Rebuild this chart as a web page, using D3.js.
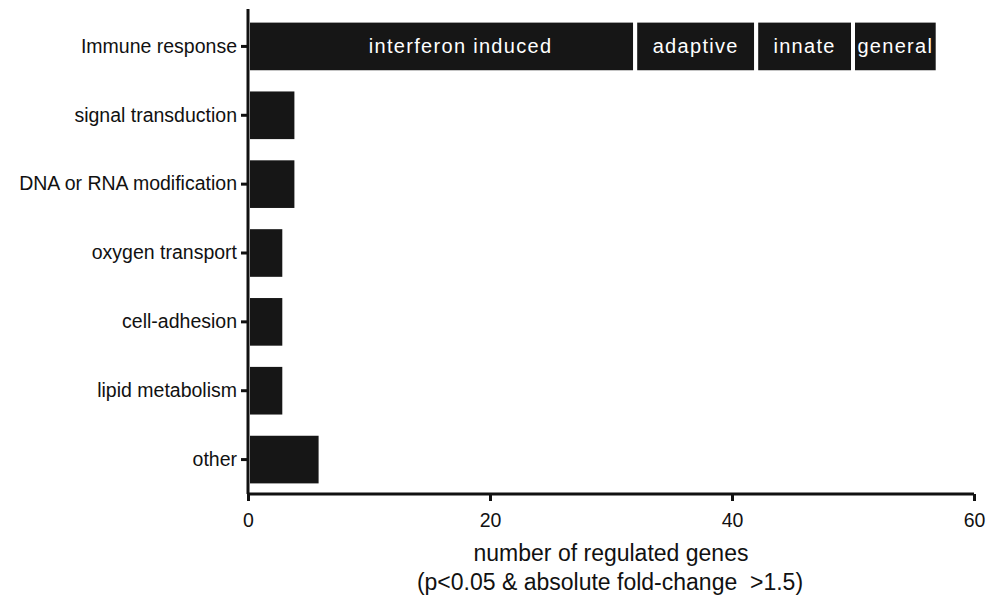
<!DOCTYPE html>
<html>
<head>
<meta charset="utf-8">
<script src="https://cdn.jsdelivr.net/npm/d3@7"></script>
<style>
  body { margin: 0; background: #fff; }
  text { font-family: "Liberation Sans", Arial, sans-serif; fill: #111; }
</style>
</head>
<body>
<script>
// categories and totals
var categories = ["Immune response", "signal transduction", "DNA or RNA modification",
                  "oxygen transport", "cell-adhesion", "lipid metabolism", "other"];
var counts = [57, 4, 4, 3, 3, 3, 6];

// immune response broken into sub groups
var immuneParts = ["interferon induced", "adaptive", "innate", "general"];
var immuneCounts = [32, 10, 8, 7];

var xTicks = [0, 20, 40, 60];

var width = 999, height = 598;
var margin = {top: 12, right: 25, bottom: 104, left: 248};

var svg = d3.select("body").append("svg")
    .attr("width", width)
    .attr("height", height);

var x = d3.scaleLinear()
    .domain([0, 60])
    .range([margin.left, 974]);

var y = d3.scaleBand()
    .domain(categories)
    .range([margin.top, height - margin.bottom])
    .paddingInner(0.25)
    .paddingOuter(0.125);

var barColor = "#161616";

// segments: immune row is stacked, the rest are single bars
var segs = [];
var acc = 0;
immuneParts.forEach(function(p, i) {
  segs.push({cat: categories[0], name: p, x0: acc, x1: acc + immuneCounts[i]});
  acc += immuneCounts[i];
});
categories.slice(1).forEach(function(c, i) {
  segs.push({cat: c, name: null, x0: 0, x1: counts[i + 1]});
});

svg.selectAll(".bar")
    .data(segs)
  .enter().append("rect")
    .attr("class", "bar")
    .attr("x", function(d) { return x(d.x0); })
    .attr("y", function(d) { return y(d.cat); })
    .attr("width", function(d) { return x(d.x1) - x(d.x0); })
    .attr("height", y.bandwidth())
    .style("fill", barColor)
    .style("stroke", "#fff")
    .style("stroke-width", 4);

// label offsets (px) so the first label sits like the original
var labelShift = {"interferon induced": 19};

svg.selectAll(".seglabel")
    .data(segs.filter(function(d) { return d.name; }))
  .enter().append("text")
    .attr("class", "seglabel")
    .attr("x", function(d) { return (x(d.x0) + x(d.x1)) / 2 + (labelShift[d.name] || 0); })
    .attr("y", function(d) { return y(d.cat) + y.bandwidth() / 2; })
    .attr("dy", "0.35em")
    .attr("text-anchor", "middle")
    .style("fill", "#fff")
    .style("font-size", "20px")
    .style("letter-spacing", "1.3px")
    .text(function(d) { return d.name; });

// axes
var xAxis = svg.append("g")
    .attr("transform", "translate(0," + (height - margin.bottom) + ")")
    .call(d3.axisBottom(x).tickValues(xTicks).tickSize(7).tickSizeOuter(0).tickPadding(12));

var yAxis = svg.append("g")
    .attr("transform", "translate(" + margin.left + ",0)")
    .call(d3.axisLeft(y).tickSize(7).tickSizeOuter(0).tickPadding(4));

[xAxis, yAxis].forEach(function(g) {
  g.select(".domain").style("stroke", "#111").style("stroke-width", 3);
  g.selectAll(".tick line").style("stroke", "#111").style("stroke-width", 3);
  g.selectAll(".tick text")
      .style("font-size", "19.5px")
      .style("font-family", "'Liberation Sans', Arial, sans-serif")
      .style("fill", "#111");
});

// extend the y axis line a bit above the first bar, like the original
yAxis.select(".domain").attr("d", "M0," + 9 + "V" + (height - margin.bottom));
xAxis.select(".domain").attr("d", "M" + x(0) + ",0H" + x(60));

svg.append("text")
    .attr("x", 611)
    .attr("y", 561)
    .attr("text-anchor", "middle")
    .style("font-size", "23px")
    .text("number of regulated genes");

svg.append("text")
    .attr("x", 610)
    .attr("y", 590)
    .attr("text-anchor", "middle")
    .style("font-size", "23px")
    .style("white-space", "pre")
    .text("(p<0.05 & absolute fold-change  >1.5)");
</script>
</body>
</html>
